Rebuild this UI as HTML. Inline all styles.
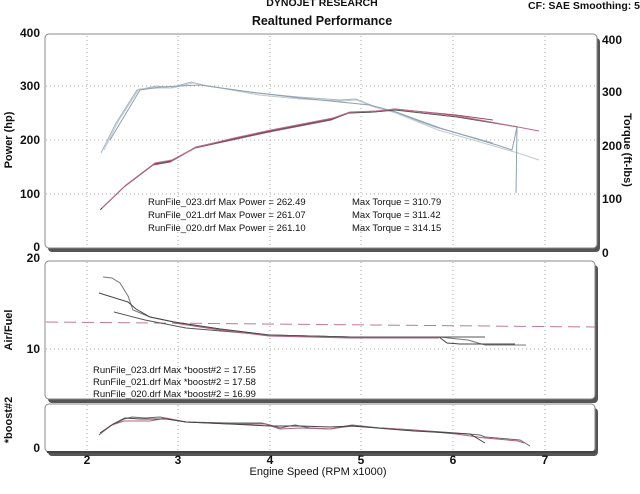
<!DOCTYPE html>
<html><head><meta charset="utf-8"><style>
body{margin:0;background:#fff}
svg{display:block}
text{font-family:"Liberation Sans",sans-serif;fill:#111}
</style></head><body>
<svg width="640" height="494" viewBox="0 0 640 494" xmlns="http://www.w3.org/2000/svg">
<text x="322" y="6" font-size="10.5" font-weight="bold" text-anchor="middle">DYNOJET RESEARCH</text>
<text x="322" y="25" font-size="12.5" font-weight="bold" text-anchor="middle">Realtuned Performance</text>
<text x="640" y="9" font-size="10.5" font-weight="bold" text-anchor="end">CF: SAE  Smoothing: 5</text>

<rect x="48" y="38" width="552" height="214" rx="4" fill="#555"/>
<rect x="45" y="34" width="552" height="214" rx="4" fill="#fff" stroke="#888" stroke-width="1"/>
<g stroke="#aaa" stroke-dasharray="1,3" stroke-width="1">
<line x1="87" y1="36" x2="87" y2="247"/><line x1="178" y1="36" x2="178" y2="247"/><line x1="270" y1="36" x2="270" y2="247"/><line x1="361" y1="36" x2="361" y2="247"/><line x1="453" y1="36" x2="453" y2="247"/><line x1="545" y1="36" x2="545" y2="247"/>
<line x1="46" y1="86" x2="596" y2="86"/><line x1="46" y1="140" x2="596" y2="140"/><line x1="46" y1="194" x2="596" y2="194"/>
</g>
<g font-size="12" font-weight="bold">
<text x="40" y="37" text-anchor="end">400</text><text x="40" y="90" text-anchor="end">300</text><text x="40" y="144" text-anchor="end">200</text><text x="40" y="198" text-anchor="end">100</text><text x="40" y="251" text-anchor="end">0</text>
<text x="602" y="44">400</text><text x="602" y="96">300</text><text x="602" y="150">200</text><text x="602" y="203">100</text><text x="602" y="257">0</text>
</g>
<text transform="translate(12,140) rotate(-90)" font-size="11" font-weight="bold" text-anchor="middle">Power (hp)</text>
<text transform="translate(624,150) rotate(90)" font-size="11" font-weight="bold" text-anchor="middle">Torque (ft-lbs)</text>
<g fill="none" stroke-width="1">
<polyline stroke="#a5b5c2" points="101,153 116,123 137,90 157,86 170,88 191,82 207,86 257,93 298,97 340,100 356,99 373,106 394,112 435,127 493,143"/>
<polyline stroke="#c0c8cc" points="104,150 119,120 139,89 160,88 172,88 193,83 209,86 259,95 300,99 341,101 357,100 374,107 396,113 438,130 518,153 539,160"/>
<polyline stroke="#8fa0b0" points="110,140 125,115 140,90 160,87 180,86 200,85 250,92 300,98 370,105 396,112 440,128 500,146 512,150 517,127 516,193"/>
<polyline stroke="#9a4a6a" points="100,210 124,187 153,165 170,162 195,148 232,140 269,132 331,120 348,113 373,112 394,109 456,115 493,120"/>
<polyline stroke="#555" points="101,209 125,186 154,164 171,161 196,147 233,139 270,131 332,119 349,113 374,112 395,110 457,117 500,124 518,127"/>
<polyline stroke="#c06a8a" points="102,208 126,185 155,163 172,160 197,147 234,138 271,130 333,118 350,112 376,111 396,109 458,116 518,127 539,131"/>
</g>
<g font-size="9.5">
<text x="148" y="205">RunFile_023.drf Max Power = 262.49</text><text x="352" y="205">Max Torque = 310.79</text>
<text x="148" y="218">RunFile_021.drf Max Power = 261.07</text><text x="352" y="218">Max Torque = 311.42</text>
<text x="148" y="231">RunFile_020.drf Max Power = 261.10</text><text x="352" y="231">Max Torque = 314.15</text>
</g>

<rect x="48" y="265" width="550" height="138" rx="4" fill="#555"/>
<rect x="45" y="261" width="550" height="138" rx="4" fill="#fff" stroke="#888"/>
<g stroke="#aaa" stroke-dasharray="1,3">
<line x1="87" y1="262" x2="87" y2="398"/><line x1="178" y1="262" x2="178" y2="398"/><line x1="270" y1="262" x2="270" y2="398"/><line x1="361" y1="262" x2="361" y2="398"/><line x1="453" y1="262" x2="453" y2="398"/><line x1="545" y1="262" x2="545" y2="398"/>
<line x1="46" y1="349" x2="594" y2="349"/>
</g>
<line x1="46" y1="322" x2="595" y2="327" stroke="#c07a90" stroke-width="1" stroke-dasharray="12,6"/>
<g font-size="12" font-weight="bold"><text x="40" y="262" text-anchor="end">20</text><text x="40" y="353" text-anchor="end">10</text></g>
<text transform="translate(12,330) rotate(-90)" font-size="11" font-weight="bold" text-anchor="middle">Air/Fuel</text>
<g fill="none" stroke-width="1">
<polyline stroke="#777" points="103,277 112,278 120,283 128,296 133,310 150,317 174,322 220,329 269,335 350,337 439,337 458,339 468,340 485,345 526,345"/>
<polyline stroke="#444" points="99,293 128,302 136,309 150,317 174,322 220,329 269,335 350,337 439,337 447,343 460,344 515,344"/>
<polyline stroke="#555" points="114,312 145,320 186,328 269,335 350,337 440,337 485,337"/>
<polyline stroke="#b06080" points="174,323 220,330 269,336 350,338 439,338"/>
</g>
<g font-size="9.5">
<text x="93" y="373">RunFile_023.drf Max *boost#2 = 17.55</text>
<text x="93" y="385">RunFile_021.drf Max *boost#2 = 17.58</text>
<text x="93" y="397">RunFile_020.drf Max *boost#2 = 16.99</text>
</g>

<rect x="48" y="408" width="550" height="48" rx="4" fill="#555"/>
<rect x="45" y="404" width="550" height="48" rx="4" fill="#fff" stroke="#888"/>
<g stroke="#aaa" stroke-dasharray="1,3">
<line x1="87" y1="405" x2="87" y2="451"/><line x1="178" y1="405" x2="178" y2="451"/><line x1="270" y1="405" x2="270" y2="451"/><line x1="361" y1="405" x2="361" y2="451"/><line x1="453" y1="405" x2="453" y2="451"/><line x1="545" y1="405" x2="545" y2="451"/>
</g>
<line x1="47" y1="452" x2="595" y2="452" stroke="#444" stroke-width="2"/>
<text x="40" y="452" font-size="12" font-weight="bold" text-anchor="end">0</text>
<text transform="translate(12,420) rotate(-90)" font-size="11" font-weight="bold" text-anchor="middle">*boost#2</text>
<g fill="none" stroke-width="1">
<polyline stroke="#666" points="99,435 110,426 124,419 132,417 145,418 160,417 170,419 186,422 230,423 262,423 270,425 280,428 295,425 310,428 330,429 352,425 380,428 414,430 456,433 480,435 485,437 520,440 530,446"/>
<polyline stroke="#b06080" points="100,434 112,425 124,421 137,421 150,421 166,418 186,422 230,424 265,424 280,429 300,428 330,429 352,426 380,428 414,430 456,434 485,438 518,441 524,443"/>
<polyline stroke="#444" points="100,433 113,424 125,418 140,419 166,419 186,422 230,424 270,426 300,426 330,427 352,426 414,431 470,434 480,440 485,443"/>
</g>
<g font-size="12" font-weight="bold" text-anchor="middle">
<text x="87" y="464">2</text><text x="178" y="464">3</text><text x="270" y="464">4</text><text x="361" y="464">5</text><text x="453" y="464">6</text><text x="545" y="464">7</text>
</g>
<text x="318" y="475" font-size="11" text-anchor="middle">Engine Speed (RPM x1000)</text>
</svg>
</body></html>
